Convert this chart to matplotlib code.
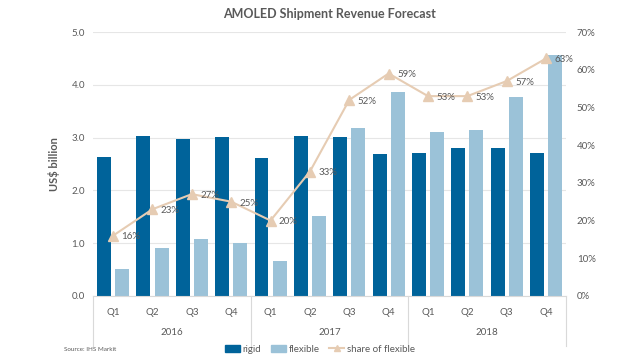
import numpy as np
import matplotlib
matplotlib.use("Agg")
from matplotlib import pyplot as plt
from matplotlib.patches import Patch
from matplotlib.lines import Line2D

quarters = ["Q1", "Q2", "Q3", "Q4"] * 3
years = ["2016", "2017", "2018"]
rigid = [2.63, 3.03, 2.97, 3.02, 2.62, 3.03, 3.01, 2.69, 2.71, 2.81, 2.80, 2.70]
flexible = [0.51, 0.91, 1.08, 1.00, 0.66, 1.51, 3.19, 3.86, 3.11, 3.14, 3.77, 4.56]
share = [16, 23, 27, 25, 20, 33, 52, 59, 53, 53, 57, 63]

c_rigid = "#00639a"
c_flex = "#9bc2d8"
c_line = "#e6ccb3"
c_text = "#595959"
c_grid = "#e6e6e6"

plt.rcParams["font.family"] = ["Lato", "DejaVu Sans"]

fig = plt.figure(figsize=(6.4, 3.6), dpi=100)
ax = fig.add_axes([0.146, 0.178, 0.738, 0.733])
x = np.arange(len(rigid))

ax.bar(x - 0.23, rigid, width=0.355, color=c_rigid, zorder=2)
ax.bar(x + 0.23, flexible, width=0.355, color=c_flex, zorder=2)
ax.set_xlim(-0.5, 11.5)
ax.set_ylim(0, 5)
ax.set_yticks(np.arange(0, 5.01, 1))
ax.set_yticklabels([f"{v:.1f}" for v in np.arange(0, 5.01, 1)])
ax.grid(axis="y", color=c_grid, lw=0.8, zorder=0)
ax.set_xticks(x)
ax.set_xticklabels(quarters)
ax.tick_params(axis="both", length=0, labelsize=7, colors=c_text, pad=6)
ax.tick_params(axis="x", pad=9)
for s in ["top", "right", "left"]:
    ax.spines[s].set_visible(False)
ax.spines["bottom"].set_color("#d9d9d9")
ax.set_ylabel("US$ billion", fontsize=8, fontweight="bold", color=c_text, labelpad=8)

# year labels and separators
for i, yr in enumerate(years):
    ax.text(i * 4 + 1.5, -0.14, yr, transform=ax.get_xaxis_transform(),
            ha="center", va="center", fontsize=7, color=c_text)
for b in [-0.5, 3.5, 7.5, 11.5]:
    ax.plot([b, b], [0, -0.19], transform=ax.get_xaxis_transform(),
            color="#d9d9d9", lw=0.8, clip_on=False)

ax2 = ax.twinx()
ax2.plot(x, share, color=c_line, lw=1.5, marker="^", ms=7, zorder=3)
ax2.set_ylim(0, 70)
ax2.set_yticks(np.arange(0, 71, 10))
ax2.set_yticklabels([f"{v}%" for v in range(0, 71, 10)])
ax2.tick_params(axis="y", length=0, labelsize=7, colors=c_text, pad=8)
for s in ["top", "right", "left", "bottom"]:
    ax2.spines[s].set_visible(False)
for xi, v in zip(x, share):
    ax2.annotate(f"{v}%", (xi, v), xytext=(6, -1), textcoords="offset points",
                 ha="left", va="center", fontsize=7, color=c_text)

ax.set_title("AMOLED Shipment Revenue Forecast", fontsize=9, fontweight="bold",
             color=c_text, pad=10)

handles = [Patch(color=c_rigid, label="rigid"),
           Patch(color=c_flex, label="flexible"),
           Line2D([], [], color=c_line, marker="^", ms=5, lw=1.5, label="share of flexible")]
fig.legend(handles=handles, loc="center", bbox_to_anchor=(0.5, 0.03), ncol=3,
           frameon=False, fontsize=7, labelcolor=c_text, handlelength=1.5,
           handletextpad=0.3, columnspacing=1.0)
fig.text(0.1, 0.03, "Source: IHS Markit", fontsize=4.5, color=c_text, va="center")

fig.savefig("out.png", dpi=100)
